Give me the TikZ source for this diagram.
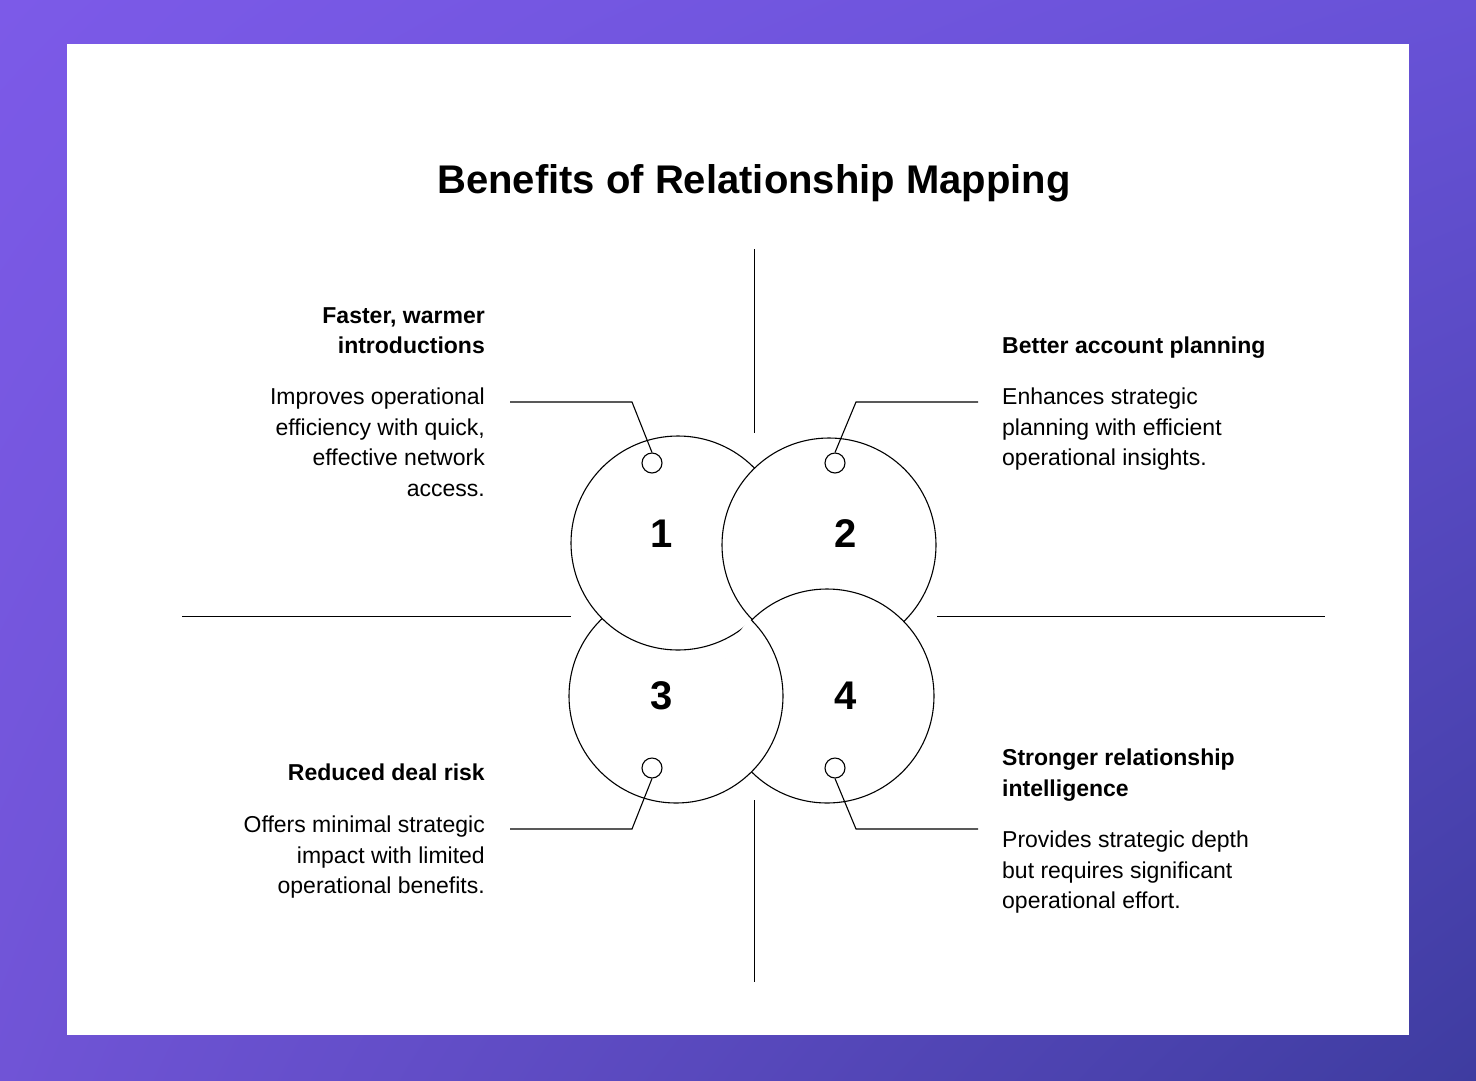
\documentclass[tikz,border=0pt]{standalone}
\usepackage{fontspec}
\usetikzlibrary{shadings}
\setmainfont{Liberation Sans}
\begin{document}
\begin{tikzpicture}[x=1pt,y=-1pt,
  ring/.style={draw=black,line width=1.1pt,fill=white},
  dotmark/.style={draw=black,line width=1.1pt,fill=white,circle,minimum size=20pt,inner sep=0pt},
  lead/.style={draw=black,line width=1.1pt},
  axis/.style={draw=black,line width=1pt},
  head/.style={font=\fontsize{23}{30.5}\selectfont\bfseries,inner sep=0pt},
  body/.style={font=\fontsize{23}{30.5}\selectfont,inner sep=0pt},
  num/.style={font=\fontsize{40}{48}\selectfont\bfseries}]
\definecolor{ul}{RGB}{124,90,232}\definecolor{ur}{RGB}{104,82,215}
\definecolor{ll}{RGB}{112,84,214}\definecolor{lr}{RGB}{62,60,160}
\shade[upper left=ul,upper right=ur,lower left=ll,lower right=lr] (0,0) rectangle (1476,1080);
\useasboundingbox (0,0) rectangle (1476,1080);
\fill[white] (67,44) rectangle (1409,1035);
\node[font=\fontsize{40}{48}\selectfont\bfseries] (title) at (754,183) {Benefits of Relationship Mapping};
% axes
\coordinate (vt1) at (754,249); \coordinate (vt2) at (754,433);
\coordinate (vb1) at (754,800); \coordinate (vb2) at (754,982);
\coordinate (hl1) at (182,616); \coordinate (hl2) at (571,616);
\coordinate (hr1) at (937,616); \coordinate (hr2) at (1325,616);
\draw[axis] (vt1)--(vt2); \draw[axis] (vb1)--(vb2);
\draw[axis] (hl1)--(hl2); \draw[axis] (hr1)--(hr2);
% circles
\coordinate (c1) at (678,543); \coordinate (c2) at (829,545);
\coordinate (c3) at (676,696); \coordinate (c4) at (827,696);
\draw[ring] (c3) circle (107);
\draw[ring] (c1) circle (107);
\draw[ring] (c2) circle (107);
\draw[ring] (c4) circle (107);
\begin{scope}
\clip (c4) circle (108.5);
\fill[white] (c3) circle (106.4);
\end{scope}
\begin{scope}
\clip (c4) circle (106.5);
\draw[ring,fill=none] (c3) circle (107);
\end{scope}
\node[num] (n1) at (662,534) {1};
\node[num] (n2) at (846,534) {2};
\node[num] (n3) at (662,696) {3};
\node[num] (n4) at (846,696) {4};
% markers and leaders
\node[dotmark] (m1) at (652,463) {};
\node[dotmark] (m2) at (835,463) {};
\node[dotmark] (m3) at (652,768) {};
\node[dotmark] (m4) at (835,768) {};
\coordinate (k1) at (632,402); \coordinate (e1) at (510,402);
\coordinate (k2) at (856,402); \coordinate (e2) at (978,402);
\coordinate (k3) at (632,829); \coordinate (e3) at (510,829);
\coordinate (k4) at (856,829); \coordinate (e4) at (978,829);
\draw[lead] (m1.north)--(k1)--(e1);
\draw[lead] (m2.north)--(k2)--(e2);
\draw[lead] (m3.south)--(k3)--(e3);
\draw[lead] (m4.south)--(k4)--(e4);
% texts
\node[head,anchor=north east,align=right] (h1) at (485,307) {Faster, warmer\\introductions};
\node[body,anchor=north east,align=right] (b1) at (485,388) {Improves operational\\efficiency with quick,\\effective network\\access.};
\node[head,anchor=north west,align=left] (h2) at (1002,337) {Better account planning};
\node[body,anchor=north west,align=left] (b2) at (1002,388) {Enhances strategic\\planning with efficient\\operational insights.};
\node[head,anchor=north east,align=right] (h3) at (485,764) {Reduced deal risk};
\node[body,anchor=north east,align=right] (b3) at (485,816) {Offers minimal strategic\\impact with limited\\operational benefits.};
\node[head,anchor=north west,align=left] (h4) at (1002,749) {Stronger relationship\\intelligence};
\node[body,anchor=north west,align=left] (b4) at (1002,831) {Provides strategic depth\\but requires significant\\operational effort.};
\end{tikzpicture}
\end{document}
